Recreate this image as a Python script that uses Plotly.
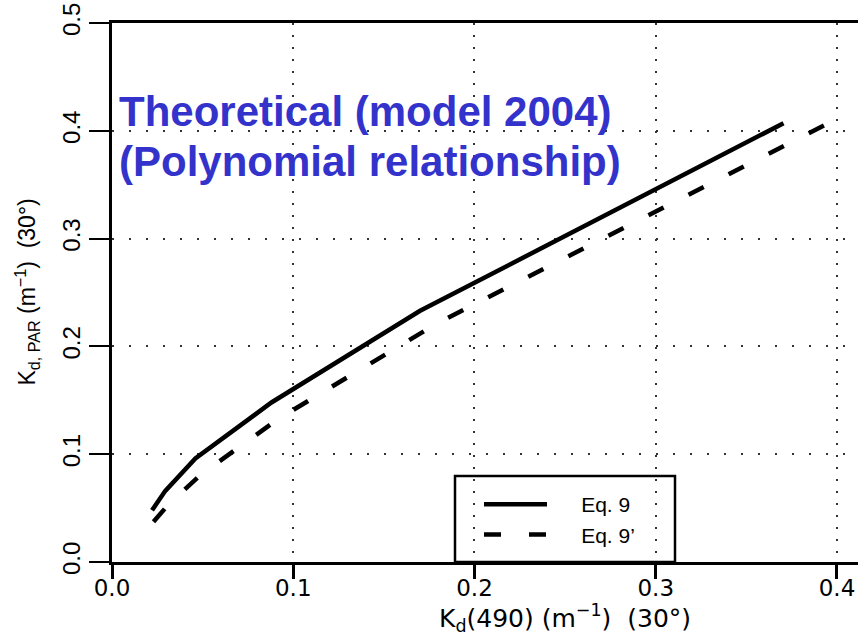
import plotly.graph_objects as go

# Kd(490) vs Kd,PAR at 30 deg solar zenith, two formulations
kd490_eq9 = [0.0221, 0.0294, 0.046, 0.088, 0.170, 0.3705]
kdpar_eq9 = [0.048, 0.066, 0.096, 0.148, 0.233, 0.407]

kd490_eq9p = [0.0229, 0.031, 0.049, 0.092, 0.180, 0.393]
kdpar_eq9p = [0.0374, 0.053, 0.081, 0.133, 0.222, 0.405]

x_ticks = [0.0, 0.1, 0.2, 0.3, 0.4]
y_ticks = [0.0, 0.1, 0.2, 0.3, 0.4, 0.5]

FONT = "Liberation Sans, Arial, Helvetica, sans-serif"
WIDE = "DejaVu Sans, Verdana, sans-serif"
NB = "\u00a0"

fig = go.Figure()
fig.add_trace(go.Scatter(
    x=kd490_eq9, y=kdpar_eq9, mode="lines", name=NB * 5 + "Eq. 9",
    line=dict(color="black", width=4.5),
))
fig.add_trace(go.Scatter(
    x=kd490_eq9p, y=kdpar_eq9p, mode="lines", name=NB * 5 + "Eq. 9\u2019",
    line=dict(color="black", width=4.5, dash="17px,28px"),
))

fig.update_layout(
    width=858, height=636,
    margin=dict(l=112, r=0, t=23, b=74),
    plot_bgcolor="white", paper_bgcolor="white",
    font=dict(family=FONT, color="black", size=24),
    showlegend=True,
    legend=dict(
        x=(479 - 112) / 746, y=(562 - 484) / 539, xanchor="left", yanchor="top",
        bgcolor="rgba(0,0,0,0)", borderwidth=0,
        font=dict(size=21, family=FONT), tracegroupgap=0, itemwidth=63,
    ),
)

# transparent frame around the legend
fig.add_shape(
    type="rect", xref="paper", yref="paper",
    x0=(455 - 112) / 746, x1=(675 - 112) / 746, y0=0, y1=(562 - 476) / 539,
    line=dict(color="black", width=2.5), fillcolor="rgba(0,0,0,0)",
)

fig.update_xaxes(
    range=[0, 0.4116], tickvals=x_ticks, ticktext=[f"{v:.1f}" for v in x_ticks],
    showline=True, linecolor="black", linewidth=2.5, mirror=True,
    ticks="outside", ticklen=14, tickwidth=2.5, tickcolor="black",
    showgrid=True, gridcolor="#333333", gridwidth=1.5, griddash="2px,10px",
    zeroline=False, tickfont=dict(size=23, family=WIDE), ticklabelstandoff=-10,
)
fig.update_yaxes(
    range=[0, 0.5], tickvals=y_ticks, ticktext=[f"{v:.1f}" for v in y_ticks],
    showline=True, linecolor="black", linewidth=2.5,
    ticks="outside", ticklen=20, tickwidth=2, tickcolor="black",
    showgrid=True, gridcolor="#333333", gridwidth=1.5, griddash="2px,15px",
    zeroline=False, tickangle=-90, tickfont=dict(size=24),
)

# axis titles
fig.add_annotation(
    text="K<sub>d</sub>(490) (m<sup>\u22121</sup>)  (30\u00b0)",
    xref="paper", yref="paper", x=(565 - 112) / 746, y=-(618 - 562) / 539,
    xanchor="center", yanchor="middle", showarrow=False,
    font=dict(size=25, family=WIDE),
)
fig.add_annotation(
    text="K<sub>d, PAR</sub> (m<sup>\u22121</sup>)  (30\u00b0)",
    xref="paper", yref="paper", x=-(112 - 8) / 746, y=0.5, textangle=-90,
    xanchor="left", yanchor="middle", showarrow=False, font=dict(size=23),
)

# overlaid caption
caption_lines = ["Theoretical (model 2004)", "(Polynomial relationship)"]
caption_y = [0.4178, 0.3715]
for line, yv in zip(caption_lines, caption_y):
    fig.add_annotation(
        text=f"<b>{line}</b>", xref="x", yref="y", x=0.0025, y=yv,
        xanchor="left", yanchor="middle", showarrow=False,
        font=dict(size=42, color="#3333cc", family=FONT),
    )

fig.write_html("out.html")
